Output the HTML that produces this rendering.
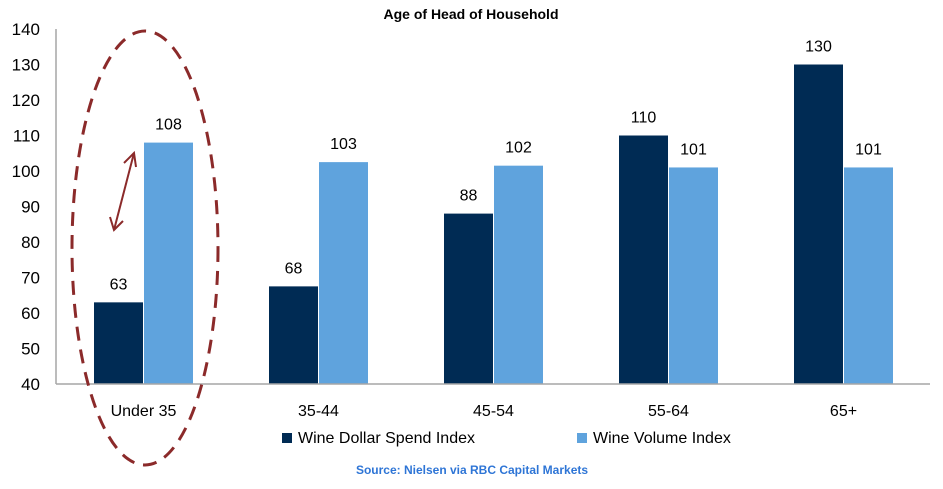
<!DOCTYPE html>
<html><head><meta charset="utf-8"><style>
body{margin:0;background:#fff;width:943px;height:484px;overflow:hidden}
svg text{font-family:"Liberation Sans",sans-serif}
</style></head><body>
<svg width="943" height="484">
<text x="471" y="19" text-anchor="middle" font-size="14" font-weight="bold" fill="#000">Age of Head of Household</text>
<g id="yticks"></g>
<g id="bars"></g>
<line x1="56" y1="29" x2="56" y2="384" stroke="#a6a6a6" stroke-width="1.5"/>
<line x1="56" y1="384" x2="930" y2="384" stroke="#a6a6a6" stroke-width="1.5"/>
<ellipse cx="145" cy="248" rx="73" ry="217" fill="none" stroke="#8b2a2a" stroke-width="3" stroke-dasharray="14,9"/>
<g stroke="#8b2a2a" stroke-width="2" fill="none">
<line x1="114" y1="230" x2="134" y2="153"/>
<polyline points="124,163 134,153 136,167"/>
<polyline points="110,217 114,230 123,221"/>
</g>
<g>
<rect x="282" y="433" width="10" height="10" fill="#002b54"/>
<text x="298" y="443" font-size="16" fill="#000">Wine Dollar Spend Index</text>
<rect x="577" y="433" width="10" height="10" fill="#5fa3dd"/>
<text x="593" y="443" font-size="16" fill="#000">Wine Volume Index</text>
</g>
<text x="472" y="474" text-anchor="middle" font-size="12" font-weight="bold" fill="#2e75d6">Source: Nielsen via RBC Capital Markets</text>
</svg>
<script>
const categories=["Under 35","35-44","45-54","55-64","65+"];
const dollarValues=[63,67.5,88,110,130];
const volumeValues=[108,102.5,101.5,101,101];
const dollarLabels=["63","68","88","110","130"];
const volumeLabels=["108","103","102","101","101"];
const yTicks=[40,50,60,70,80,90,100,110,120,130,140];
const NS="http://www.w3.org/2000/svg";
const y=v=>384-(v-40)*3.55;
const xc=i=>56+175*i+87.5;
function mk(tag,attrs,parent){const e=document.createElementNS(NS,tag);for(const k in attrs)e.setAttribute(k,attrs[k]);parent.appendChild(e);return e;}
const yg=document.getElementById('yticks');
yTicks.forEach(t=>{const e=mk('text',{x:40,y:y(t)+6,'text-anchor':'end','font-size':17,fill:'#000'},yg);e.textContent=t;

});
const bg=document.getElementById('bars');
categories.forEach((c,i)=>{
const cx=xc(i);
const b1=mk('rect',{x:cx-49.5,y:y(dollarValues[i]),width:49,height:384-y(dollarValues[i]),fill:'#002b54'},bg);


const b2=mk('rect',{x:cx+0.5,y:y(volumeValues[i]),width:49,height:384-y(volumeValues[i]),fill:'#5fa3dd'},bg);


const l1=mk('text',{x:cx-25,y:y(dollarValues[i])-13,'text-anchor':'middle','font-size':16,fill:'#000'},bg);l1.textContent=dollarLabels[i];


const l2=mk('text',{x:cx+25,y:y(volumeValues[i])-13,'text-anchor':'middle','font-size':16,fill:'#000'},bg);l2.textContent=volumeLabels[i];


const cl=mk('text',{x:cx,y:416,'text-anchor':'middle','font-size':16,fill:'#000'},bg);cl.textContent=c;


});
</script>
</body></html>
